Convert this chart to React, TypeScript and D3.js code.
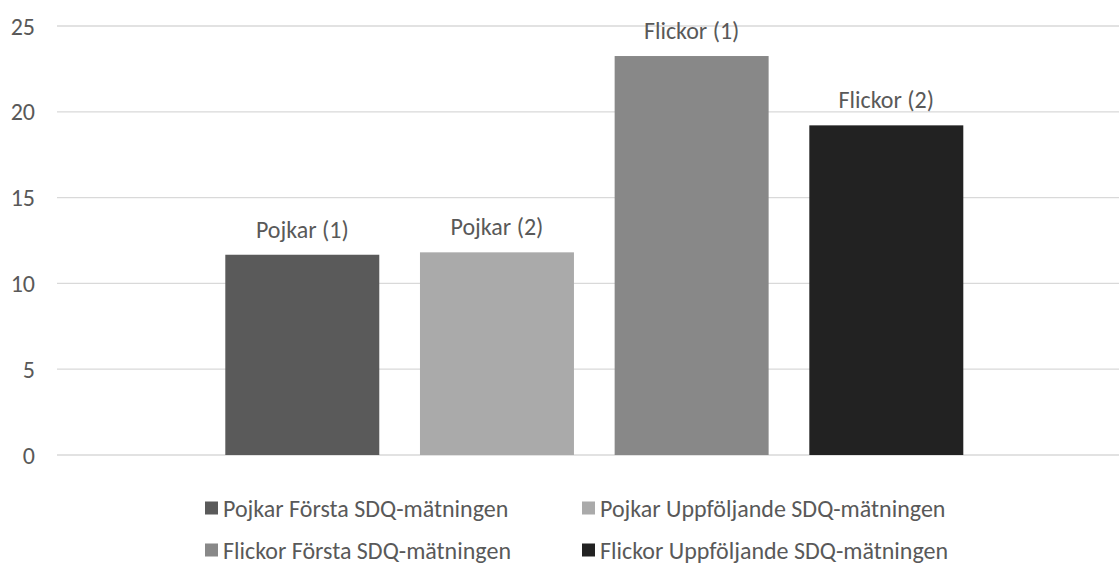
import React from "react";
import * as d3 from "d3";

const series = [
  "Pojkar Första SDQ-mätningen",
  "Pojkar Uppföljande SDQ-mätningen",
  "Flickor Första SDQ-mätningen",
  "Flickor Uppföljande SDQ-mätningen",
];
const barLabels = ["Pojkar (1)", "Pojkar (2)", "Flickor (1)", "Flickor (2)"];
const values = [11.67, 11.81, 23.25, 19.21];
const colors = ["#5a5a5a", "#aaaaaa", "#888888", "#222222"];
const yTicks = [0, 5, 10, 15, 20, 25];

const W = 1119;
const H = 564;
const FONT = "Carlito, Calibri, Lato, sans-serif";

export default function App() {
  const y = d3.scaleLinear().domain([0, 25]).range([455, 26]);
  const x = d3
    .scaleBand<string>()
    .domain(series)
    .range([225.3, 963.3])
    .paddingInner(0.209)
    .paddingOuter(0);
  const gridX0 = 57;
  const gridX1 = 1119;

  const legendPos = [
    { x: 205, y: 508 },
    { x: 582, y: 508 },
    { x: 205, y: 550 },
    { x: 582, y: 550 },
  ];

  return (
    <svg
      width={W}
      height={H}
      style={{ position: "absolute", left: 0, top: 0, background: "#fff" }}
      fontFamily={FONT}
    >
      <rect x={0} y={0} width={W} height={H} fill="#fff" />
      {yTicks.map((t) => (
        <g key={t}>
          <line
            x1={gridX0}
            x2={gridX1}
            y1={y(t)}
            y2={y(t)}
            stroke="#d9d9d9"
            strokeWidth={1.3}
          />
          <text
            x={35}
            y={y(t)}
            textAnchor="end"
            dominantBaseline="central"
            fontSize={24}
            fill="#595959"
          >
            {t}
          </text>
        </g>
      ))}
      {series.map((s, i) => (
        <g key={s}>
          <rect
            x={x(s)}
            y={y(values[i])}
            width={x.bandwidth()}
            height={y(0) - y(values[i])}
            fill={colors[i]}
          />
          <text
            x={(x(s) as number) + x.bandwidth() / 2}
            y={y(values[i]) - 17}
            textAnchor="middle"
            fontSize={24}
            fill="#595959"
          >
            {barLabels[i]}
          </text>
        </g>
      ))}
      {series.map((s, i) => (
        <g key={"lg" + s} transform={`translate(${legendPos[i].x},${legendPos[i].y})`}>
          <rect x={0} y={-6.5} width={13} height={13} fill={colors[i]} />
          <text x={18} y={0} dominantBaseline="central" fontSize={24} fill="#595959">
            {s}
          </text>
        </g>
      ))}
    </svg>
  );
}
